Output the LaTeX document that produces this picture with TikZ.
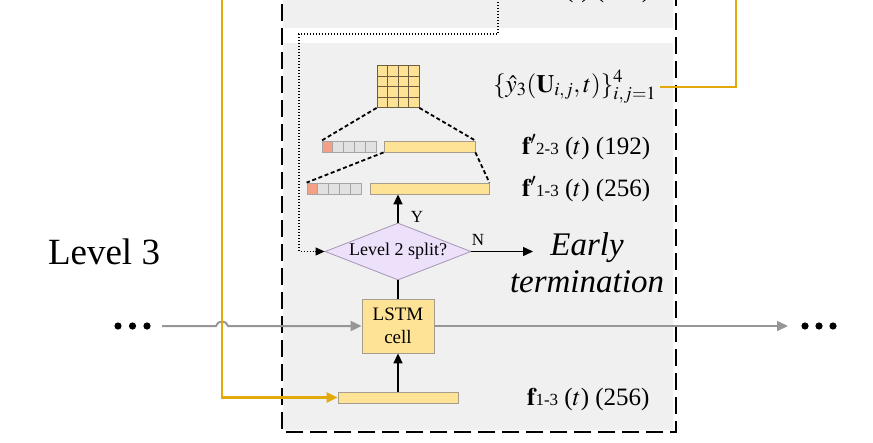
\documentclass[tikz,border=0pt]{standalone}
\usepackage{mathptmx}
\usepackage{fontspec}
\setmainfont{Liberation Serif}
\usetikzlibrary{arrows.meta,shapes.geometric}
\definecolor{panel}{RGB}{240,240,240}
\definecolor{barfill}{RGB}{254,227,150}
\definecolor{barline}{RGB}{165,158,140}
\definecolor{salmon}{RGB}{243,160,135}
\definecolor{cellgray}{RGB}{225,225,225}
\definecolor{cellline}{RGB}{165,165,165}
\definecolor{diafill}{RGB}{236,224,250}
\definecolor{dialine}{RGB}{165,150,180}
\definecolor{gold}{RGB}{226,168,12}
\definecolor{flowgray}{RGB}{150,150,150}
\definecolor{gridline}{RGB}{110,95,60}
\begin{document}
\begin{tikzpicture}[x=1pt,y=-1pt,
  bar/.style={draw=barline,fill=barfill,line width=0.8pt,inner sep=0pt,minimum height=11pt},
  cell/.style={draw=cellline,fill=cellgray,line width=0.8pt,inner sep=0pt,minimum width=10.8pt,minimum height=11pt},
  redcell/.style={cell,fill=salmon},
  boxdash/.style={line width=2pt,dash pattern=on 17pt off 7pt},
  dotline/.style={line width=1.4pt,dash pattern=on 1.4pt off 1.6pt},
  zoomdash/.style={line width=1.8pt,dash pattern=on 4pt off 2.6pt},
  blackarrow/.style={line width=1.5pt,-{Triangle[length=10pt,width=9pt]}},
  grayarrow/.style={flowgray,line width=2pt,-{Triangle[length=11pt,width=10pt]}},
  goldarrow/.style={gold,line width=2.5pt,-{Triangle[length=11pt,width=10pt]}},
  labelfont/.style={font=\fontsize{25}{28}\selectfont},
  bigfont/.style={font=\fontsize{37}{40}\selectfont},
  itfont/.style={font=\fontsize{33}{37}\selectfont\itshape},
  smallfont/.style={font=\fontsize{17}{20}\selectfont}
]
\useasboundingbox (0,0) rectangle (873,442);
% panels
\fill[panel] (283,-20) rectangle (673,28);
\fill[panel] (283,43) rectangle (673,430);
\draw[boxdash] (282,-20) -- (282,432) -- (676,432) -- (676,-20);

% cut-off label of level above
\node[anchor=base west,labelfont,inner sep=0pt] (labtop) at (522,-3) {$\mathbf{f}'${\fontsize{17}{20}\selectfont 1-2} ($t$) (128)};

% 4x4 grid
\node[draw=gridline,fill=barfill,line width=0.8pt,inner sep=0pt,minimum width=42pt,minimum height=42pt] (grid) at (398,86.5) {};
\foreach \k in {1,2,3}{
  \draw[gridline,line width=0.8pt] (377+\k*10.5,65.5) -- (377+\k*10.5,107.5);
  \draw[gridline,line width=0.8pt] (377,65.5+\k*10.5) -- (419,65.5+\k*10.5);
}

% row f'2-3
\node[redcell] (ra0) at (327.4,146.5) {};
\foreach \i in {1,...,4}{ \node[cell] (ra\i) at (327.4+\i*10.8,146.5) {}; }
\node[bar,minimum width=91pt] (bara) at (429.5,146.5) {};
% row f'1-3
\node[redcell] (rb0) at (312.4,188.5) {};
\foreach \i in {1,...,4}{ \node[cell] (rb\i) at (312.4+\i*10.8,188.5) {}; }
\node[bar,minimum width=119pt] (barb) at (429.5,188.5) {};

\draw[zoomdash] (grid.south west) -- (ra0.north west);
\draw[zoomdash] (grid.south east) -- (bara.north east);
\draw[zoomdash] (bara.south west) -- (rb0.north west);
\draw[zoomdash] (bara.south east) -- (barb.north east);

% labels
\node[anchor=base west,font=\fontsize{25}{28}\selectfont,inner sep=0pt] (laby) at (493,92) {$\{\hat{y}_3(\mathbf{U}_{i,j},t)\}_{i,j=1}^{4}$};
\node[anchor=base west,labelfont,inner sep=0pt] (laba) at (522,154) {$\mathbf{f}'${\fontsize{17}{20}\selectfont 2-3} ($t$) (192)};
\node[anchor=base west,labelfont,inner sep=0pt] (labb) at (522,196) {$\mathbf{f}'${\fontsize{17}{20}\selectfont 1-3} ($t$) (256)};
\node[anchor=base west,labelfont,inner sep=0pt] (labc) at (527,405) {$\mathbf{f}${\fontsize{17}{20}\selectfont 1-3} ($t$) (256)};

% decision
\node[diamond,draw=dialine,fill=diafill,line width=0.8pt,aspect=2.56,minimum width=146pt,minimum height=57pt,inner sep=0pt,font=\fontsize{18}{20}\selectfont] (split) at (398,251.5) {Level 2 split?};
\draw[blackarrow] (split.north) -- (split.north |- barb.south);
\node[anchor=base,smallfont,inner sep=0pt] (ylab) at (417,222) {Y};
\coordinate (nend) at (533,251.5);
\draw[blackarrow] (split.east) -- (nend);
\node[anchor=base,smallfont,inner sep=0pt] (nlab) at (478,245) {N};
\node[anchor=base,itfont,inner sep=0pt] (early) at (587,255) {Early};
\node[anchor=base,itfont,inner sep=0pt] (term) at (587,292) {termination};

% dotted feedback from level above
\coordinate (dtop) at (498,-10);
\draw[dotline] (dtop) -- (498,34) -- (299,34) -- (299,251.5) -- (317,251.5);
\draw[-{Triangle[length=9pt,width=8pt]},line width=1pt] (315,251.5) -- (split.west);

% LSTM
\node[draw=barline,fill=barfill,line width=0.8pt,minimum width=72pt,minimum height=54pt,inner sep=0pt,align=center,font=\fontsize{19}{23}\selectfont] (lstm) at (398,326) {LSTM\\cell};
\draw[line width=1.5pt] (split.south) -- (lstm.north);
\node[bar,minimum width=120pt] (barc) at (398,397.5) {};
\draw[blackarrow] (barc.north) -- (lstm.south);

% gray state line
\coordinate (gl) at (162,326);
\coordinate (gr) at (788,326);
\draw[grayarrow] (gl) -- (216,326) .. controls (217.5,320) and (226.5,320) .. (228,326) -- (lstm.west);
\draw[grayarrow] (lstm.east) -- (gr);
\foreach \x [count=\n] in {118,132.5,147}{ \fill (\x,326) circle (3.6pt) coordinate (dl\n); }
\foreach \x [count=\n] in {805,819,833}{ \fill (\x,326) circle (3.6pt) coordinate (dr\n); }
\node[anchor=base,bigfont,inner sep=0pt] (lvl) at (104,264) {Level 3};

% gold lines
\coordinate (gtop) at (222,-10);
\draw[goldarrow] (gtop) -- (222,397.5) -- (barc.west);
\coordinate (gtop2) at (736,-10);
\draw[gold,line width=2.5pt] (laby.east |- 0,87) ++(4,0) -- (736,87) -- (gtop2);
\end{tikzpicture}
\end{document}
